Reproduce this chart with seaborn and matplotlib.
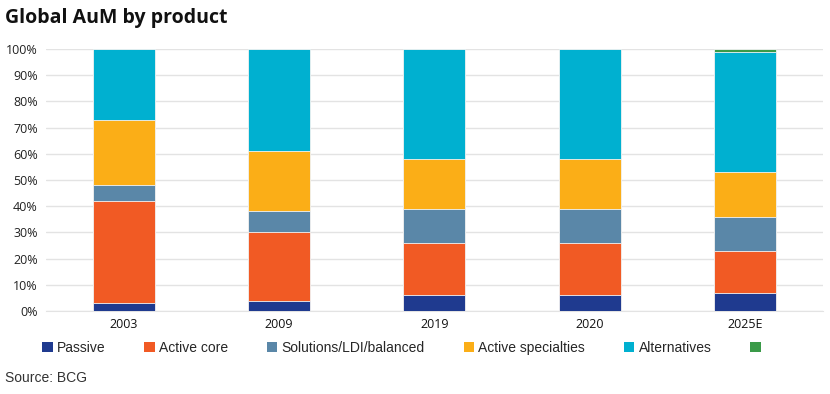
import pandas as pd
import matplotlib
matplotlib.use("Agg")
import matplotlib.pyplot as plt
import seaborn as sns
from matplotlib.patches import Patch
from matplotlib.ticker import PercentFormatter

# Données (parts en %)
years = ["2003", "2009", "2019", "2020", "2025E"]
series = ["Passive", "Active core", "Solutions/LDI/balanced",
          "Active specialties", "Alternatives", ""]
passive = [3, 4, 6, 6, 7]
active_core = [39, 26, 20, 20, 16]
solutions = [6, 8, 13, 13, 13]
specialties = [25, 23, 19, 19, 17]
alternatives = [27, 39, 42, 42, 46]
other = [0, 0, 0, 0, 1]

colors = ["#1F3A8F", "#F15A24", "#5A87A8", "#FBAE17", "#00B0D0", "#3A9A48"]

df = pd.DataFrame({
    "year": years,
    series[0]: passive,
    series[1]: active_core,
    series[2]: solutions,
    series[3]: specialties,
    series[4]: alternatives,
    "Other": other,
})
cols = series[:5] + ["Other"]
cum = df[cols].cumsum(axis=1)

sns.set_style("white")
plt.rcParams["font.family"] = ["Open Sans", "DejaVu Sans"]

fig = plt.figure(figsize=(8.3, 3.94), dpi=100)
ax = fig.add_axes([0.0554, 0.2107, 0.936, 0.665])

# barres empilées : on trace les cumuls du haut vers le bas
for col, c in reversed(list(zip(cols, colors))):
    sns.barplot(x=df["year"], y=cum[col], color=c, saturation=1, width=0.4,
                edgecolor="#f4f4f4", linewidth=0.6, ax=ax, zorder=3)

ax.set_ylim(0, 100)
ax.set_xlim(-0.5, 4.5)
ax.set_yticks(range(0, 101, 10))
ax.yaxis.set_major_formatter(PercentFormatter(decimals=0))
ax.grid(axis="y", color="#e3e3e3", linewidth=1, zorder=0)
ax.set_xlabel("")
ax.set_ylabel("")
for s in ["top", "right", "left"]:
    ax.spines[s].set_visible(False)
ax.spines["bottom"].set_color("#e3e3e3")
ax.tick_params(axis="y", length=0, labelsize=9, colors="#222222", pad=6)
ax.tick_params(axis="x", length=0, labelsize=9, colors="#111111", pad=5)

fig.text(0.006, 0.955, "Global AuM by product", fontsize=14, fontweight="bold",
         ha="left", va="center", color="#111111")

handles = [Patch(facecolor=c, edgecolor="none") for c in colors]
narrow = ["Liberation Sans", "DejaVu Sans"]
fig.legend(handles, series, loc="center left", bbox_to_anchor=(0.036, 0.117),
           ncol=6, frameon=False, handlelength=0.75, handleheight=0.75,
           handletextpad=0.3, columnspacing=2.8,
           prop={"family": narrow, "size": 10})

fig.text(0.006, 0.04, "Source: BCG", fontsize=10, family=narrow,
         color="#333333", ha="left", va="center")

fig.savefig("out.png", dpi=100)
